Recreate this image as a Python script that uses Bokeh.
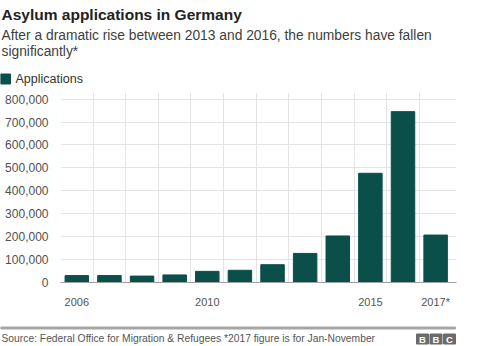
from bokeh.plotting import figure
from bokeh.layouts import column
from bokeh.models import Range1d, FixedTicker, Grid, NumeralTickFormatter, ColumnDataSource
from bokeh.core.properties import value
from bokeh.embed import file_html
from bokeh.resources import INLINE

# ---- data ----
years = [2006, 2007, 2008, 2009, 2010, 2011, 2012, 2013, 2014, 2015, 2016, 2017]
applications = [30100, 30300, 28000, 33000, 48600, 53300, 77700, 127000, 203000, 476600, 745500, 207000]
y_ticks = [0, 100000, 200000, 300000, 400000, 500000, 600000, 700000, 800000]
x_tick_years = [2006, 2010, 2015, 2017]
x_tick_labels = ["2006", "2010", "2015", "2017*"]
series_name = "Applications"
title_text = "Asylum applications in Germany"
subtitle_lines = ["After a dramatic rise between 2013 and 2016, the numbers have fallen",
                  "significantly*"]
source_text = "Source: Federal Office for Migration & Refugees *2017 figure is for Jan-November"
logo_letters = ["B", "B", "C"]

BAR = "#0b4f4b"
FONT = "Liberation Sans"
W = 480
HEAD_H = 88
FOOT_H = 36
MAIN_H = 346 - HEAD_H - FOOT_H


def blank(h):
    f = figure(width=W, height=h, output_backend="svg", toolbar_location=None,
               x_range=Range1d(0, W), y_range=Range1d(h, 0),
               x_axis_type=None, y_axis_type=None, frame_align=False,
               min_border=0, min_border_left=0, min_border_right=0,
               min_border_top=0, min_border_bottom=0)
    f.outline_line_color = None
    f.grid.visible = False
    f.background_fill_color = "white"
    f.border_fill_color = "white"
    return f


def txt(f, x, y, s, size, color, style="normal", align="left", baseline="alphabetic"):
    px = float(size.replace("px", ""))
    if baseline == "alphabetic":
        y = y - 0.33 * px
    f.text(x=[x], y=[y], text=[s], text_font=value(FONT), text_font_size=value(size),
           text_color=color, text_font_style=style, text_align=align, text_baseline=baseline)


# ---- header ----
head = blank(HEAD_H)
txt(head, 1, 19, title_text, "15.5px", "#222222", style="bold")
txt(head, 1, 39.5, subtitle_lines[0], "13.8px", "#404040")
txt(head, 1, 55.5, subtitle_lines[1], "13.8px", "#404040")
head.quad(left=[0], right=[10], top=[73.5], bottom=[83.5], color=BAR)
txt(head, 15, 83, series_name, "12.5px", "#333333")

# ---- main chart ----
src = ColumnDataSource(dict(year=years, value=applications))
p = figure(width=W, height=MAIN_H, output_backend="svg", toolbar_location=None,
           x_range=Range1d(years[0] - 0.5, years[-1] + 0.64),
           y_range=Range1d(0, 829000), frame_align=False,
           min_border_left=60, min_border_right=24, min_border_top=4, min_border_bottom=28)
p.outline_line_color = None
p.background_fill_color = "white"
p.border_fill_color = "white"

p.vbar(x="year", top="value", width=0.72, source=src, color=BAR)

p.xgrid.visible = False
p.ygrid.ticker = FixedTicker(ticks=y_ticks)
p.ygrid.grid_line_color = "#e4e4e4"
boundaries = [y - 0.5 for y in years]
p.add_layout(Grid(dimension=0, ticker=FixedTicker(ticks=boundaries), grid_line_color="#e4e4e4"))

p.xaxis.ticker = FixedTicker(ticks=x_tick_years)
p.xaxis.major_label_overrides = {y: l for y, l in zip(x_tick_years, x_tick_labels)}
p.xaxis.major_tick_line_color = None
p.xaxis.minor_tick_line_color = None
p.xaxis.axis_line_color = "#a0a0a0"
p.xaxis.major_label_standoff = 7
p.xaxis.major_label_text_font = FONT
p.xaxis.major_label_text_font_size = "11px"
p.xaxis.major_label_text_color = "#555555"

p.yaxis.ticker = FixedTicker(ticks=y_ticks)
p.yaxis.formatter = NumeralTickFormatter(format="0,0")
p.yaxis.axis_line_color = None
p.yaxis.major_tick_line_color = None
p.yaxis.minor_tick_line_color = None
p.yaxis.major_label_standoff = 6
p.yaxis.major_label_text_font = FONT
p.yaxis.major_label_text_font_size = "12px"
p.yaxis.major_label_text_color = "#505050"

# ---- footer ----
foot = blank(FOOT_H)
foot.quad(left=[0], right=[455], top=[16.5], bottom=[18.5], color="#a6a6a6")
txt(foot, 1, 31, source_text, "10.3px", "#555555")
for i, ch in enumerate(logo_letters):
    l = 416 + i * 13.5
    foot.quad(left=[l], right=[l + 12], top=[23.5], bottom=[33.5], color="#6b6b6b")
    txt(foot, l + 6, 28.5, ch, "9.5px", "white", style="bold", align="center", baseline="middle")

layout = column(head, p, foot, spacing=0)
open("out.html", "w").write(file_html(layout, INLINE))
